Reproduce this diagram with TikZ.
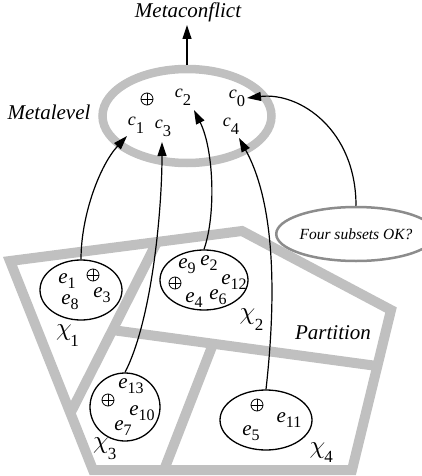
\documentclass[tikz,border=0pt]{standalone}
\usepackage{fontspec}
\setmainfont{Liberation Serif}
\usetikzlibrary{arrows.meta,shapes.geometric}
\definecolor{band}{HTML}{C0C0C0}
\definecolor{ring}{HTML}{8C8C8C}
\newcommand{\ev}[1]{{\fontsize{21}{20}\selectfont\itshape e}\raisebox{-5pt}{\fontsize{16}{15}\selectfont #1}}
\newcommand{\cv}[1]{\raisebox{8pt}{\fontsize{18}{18}\selectfont\itshape c}{\fontsize{16.5}{16}\selectfont #1}}
\tikzset{
  wall/.style={draw=band, line width=10pt},
  subset/.style={draw=black, line width=1.3pt, ellipse, inner sep=0pt},
  lbl/.style={inner sep=0pt, anchor=center},
  chi/.style={inner sep=0pt, anchor=center, scale=2.5},
  dig/.style={inner sep=0pt, anchor=center, font=\fontsize{17}{17}\selectfont},
  opl/.style={circle, draw=black, line width=0.8pt, minimum size=12pt, inner sep=0pt,
    path picture={\draw[line width=0.8pt] (path picture bounding box.north) -- (path picture bounding box.south)
      (path picture bounding box.west) -- (path picture bounding box.east);}},
  big/.style={inner sep=0pt, font=\fontsize{21}{21}\selectfont\itshape},
  arr/.style={line width=1.2pt, -{Triangle[length=14pt,width=9pt]}},
}
\begin{document}
\begin{tikzpicture}[x=1pt,y=-1pt]
\useasboundingbox (0,0) rectangle (422,476);
% partition
\draw[wall, line join=miter] (10,261) -- (242,231) -- (391,310) -- (352,470) -- (93,470) -- cycle;
\draw[wall] (157,242) -- (70,414);
\draw[wall] (112,330) -- (377,366);
\draw[wall] (213,344) -- (164,470);
% metalevel
\node[draw=band, line width=8.5pt, ellipse, minimum width=169pt, minimum height=94pt, inner sep=0pt] (meta) at (187,116) {};
\node[big] (metalevel) at (49,112) {Metalevel};
\node[big] (metaconflict) at (188,12) {Metaconflict};
\node[opl] (mop) at (147,99) {};
\node[lbl] (c2) at (183,97) {\cv{2}};
\node[lbl] (c1) at (136,125) {\cv{1}};
\node[lbl] (c3) at (163,128) {\cv{3}};
\node[lbl] (c0) at (237,98) {\cv{0}};
\node[lbl] (c4) at (231,126) {\cv{4}};
\coordinate (mtip) at (187,25);
\coordinate (t1) at (127,136);
\coordinate (t3) at (162,142);
\coordinate (t2) at (194,110);
\coordinate (t4) at (239,138);
\coordinate (t0) at (247,98);
% four subsets
\node[draw=ring, line width=2.5pt, ellipse, minimum width=126pt, minimum height=54pt, inner sep=0pt,
      font=\fontsize{15.5}{15}\selectfont\itshape] (four) at (356,234) {Four subsets OK?};
% subsets
\node[subset, minimum width=82pt, minimum height=60pt] (chi1) at (81,290) {};
\node[subset, minimum width=88pt, minimum height=60pt] (chi2) at (204,280) {};
\node[subset, minimum width=70pt, minimum height=68pt] (chi3) at (125,407) {};
\node[subset, minimum width=92pt, minimum height=60pt] (chi4) at (266,420) {};
% chi1 contents
\node[lbl] (e1) at (67,281) {\ev{1}};
\node[opl] (o1) at (93,275) {};
\node[lbl] (e8) at (70,302) {\ev{8}};
\node[lbl] (e3) at (102,295) {\ev{3}};
\node[chi] (x1) at (64,333) {$\chi$};
\node[dig] (x1s) at (74.5,341) {1};
% chi2 contents
\node[lbl] (e9) at (187,266) {\ev{9}};
\node[lbl] (e2) at (209,263) {\ev{2}};
\node[lbl] (e12) at (234,282) {\ev{12}};
\node[opl] (o2) at (175,283) {};
\node[lbl] (e4) at (194,300) {\ev{4}};
\node[lbl] (e6) at (218,297) {\ev{6}};
\node[chi] (x2) at (247.5,316.5) {$\chi$};
\node[dig] (x2s) at (259,325) {2};
\node[big] (partition) at (333,333) {Partition};
% chi3 contents
\node[lbl] (e13) at (131,386) {\ev{13}};
\node[opl] (o3) at (108,400) {};
\node[lbl] (e10) at (142,413) {\ev{10}};
\node[lbl] (e7) at (123,428) {\ev{7}};
\node[chi] (x3) at (101,445.5) {$\chi$};
\node[dig] (x3s) at (112,454) {3};
% chi4 contents
\node[opl] (o4) at (257,405) {};
\node[lbl] (e11) at (289,420) {\ev{11}};
\node[lbl] (e5) at (251,433) {\ev{5}};
\node[chi] (x4) at (317.5,450.5) {$\chi$};
\node[dig] (x4s) at (328.5,457) {4};
% arrows
\draw[arr] (meta.north) -- (meta.north |- mtip);
\draw[arr] (chi1.north) .. controls (81,215) and (100,165) .. (t1);
\draw[arr] (chi3.north) .. controls (152,320) and (162,210) .. (t3);
\draw[arr] (chi2.north) .. controls (216,215) and (214,150) .. (t2);
\draw[arr] (chi4.north) .. controls (276,300) and (276,205) .. (t4);
\draw[arr] (four.north) .. controls (356,130) and (300,92) .. (t0);
\end{tikzpicture}
\end{document}
